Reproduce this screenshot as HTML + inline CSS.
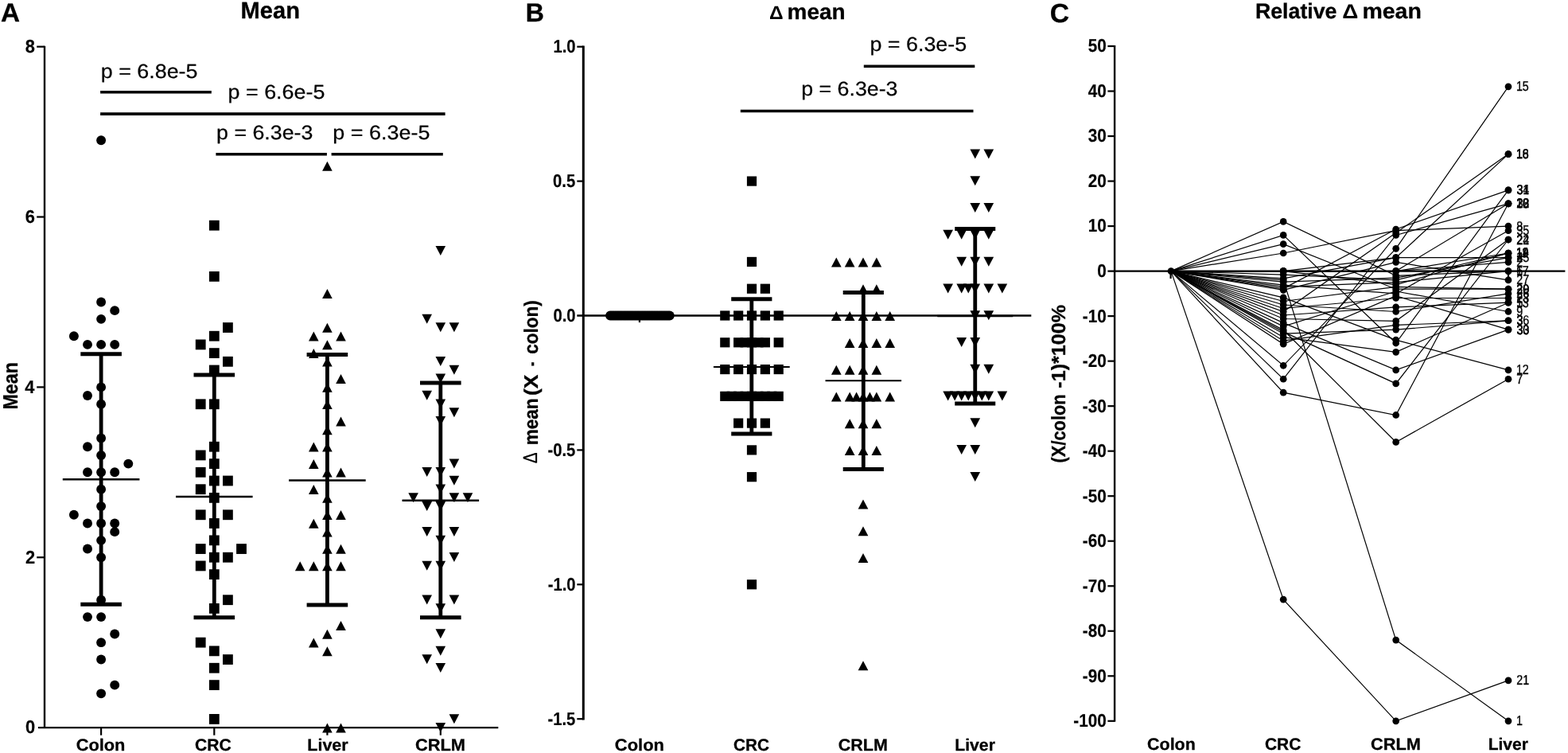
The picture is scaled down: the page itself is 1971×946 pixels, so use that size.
<!DOCTYPE html>
<html lang="en">
<head>
<meta charset="utf-8">
<title>Mean, delta mean and relative delta mean</title>
<style>
html,body{margin:0;padding:0;background:#fff;}
body{width:1971px;height:946px;overflow:hidden;}
svg{display:block;}
svg text{font-family:"Liberation Sans","DejaVu Sans",sans-serif;fill:#000;text-rendering:geometricPrecision;}
svg text.b{font-weight:bold;stroke:#000;stroke-linejoin:round;}
</style>
</head>
<body>
<svg width="1971" height="946" viewBox="0 0 1971 946" fill="#000">
<rect x="0" y="0" width="1971" height="946" fill="#fff"/>
<g id="panelA">
<line x1="56.00" y1="57.66" x2="56.00" y2="915.10" stroke="#000" stroke-width="2.4"/>
<line x1="47.90" y1="914.10" x2="626.30" y2="914.10" stroke="#000" stroke-width="2.4"/>
<line x1="46.20" y1="700.24" x2="56.00" y2="700.24" stroke="#000" stroke-width="2.2"/>
<line x1="46.20" y1="486.38" x2="56.00" y2="486.38" stroke="#000" stroke-width="2.2"/>
<line x1="46.20" y1="272.52" x2="56.00" y2="272.52" stroke="#000" stroke-width="2.2"/>
<line x1="46.20" y1="58.66" x2="56.00" y2="58.66" stroke="#000" stroke-width="2.2"/>
<line x1="127.10" y1="914.10" x2="127.10" y2="923.70" stroke="#000" stroke-width="2.2"/>
<line x1="269.30" y1="914.10" x2="269.30" y2="923.70" stroke="#000" stroke-width="2.2"/>
<line x1="411.40" y1="914.10" x2="411.40" y2="923.70" stroke="#000" stroke-width="2.2"/>
<line x1="553.80" y1="914.10" x2="553.80" y2="923.70" stroke="#000" stroke-width="2.2"/>
<text transform="translate(31.95,921.40) scale(0.9500,1)" font-size="23.00" class="b" stroke-width="0.2">0</text>
<text transform="translate(31.95,707.54) scale(0.9500,1)" font-size="23.00" class="b" stroke-width="0.2">2</text>
<text transform="translate(31.18,493.68) scale(0.9500,1)" font-size="23.00" class="b" stroke-width="0.2">4</text>
<text transform="translate(31.84,279.82) scale(0.9500,1)" font-size="23.00" class="b" stroke-width="0.2">6</text>
<text transform="translate(31.73,65.96) scale(0.9500,1)" font-size="23.00" class="b" stroke-width="0.2">8</text>
<text transform="translate(1.12,27.00) scale(1.0147,1)" font-size="32.80" class="b" stroke-width="0.3">A</text>
<text transform="translate(302.56,23.00) scale(0.9930,1)" font-size="29.30" class="b" stroke-width="0.3">Mean</text>
<text transform="translate(21.90,514.56) rotate(-90) scale(0.8959,1)" font-size="26.00" class="b" stroke-width="0.3">Mean</text>
<text transform="translate(95.68,942.80) scale(1.0379,1)" font-size="21.00" class="b" stroke-width="0.3">Colon</text>
<text transform="translate(244.90,942.80) scale(1.0068,1)" font-size="21.00" class="b" stroke-width="0.3">CRC</text>
<text transform="translate(386.36,942.80) scale(1.0204,1)" font-size="21.00" class="b" stroke-width="0.3">Liver</text>
<text transform="translate(521.88,942.80) scale(1.0415,1)" font-size="21.00" class="b" stroke-width="0.3">CRLM</text>
<circle cx="127.10" cy="176.28" r="5.95"/>
<circle cx="127.10" cy="379.45" r="5.95"/>
<circle cx="144.20" cy="390.14" r="5.95"/>
<circle cx="127.10" cy="400.84" r="5.95"/>
<circle cx="92.90" cy="422.22" r="5.95"/>
<circle cx="110.00" cy="432.91" r="5.95"/>
<circle cx="127.10" cy="432.91" r="5.95"/>
<circle cx="144.20" cy="432.91" r="5.95"/>
<circle cx="127.10" cy="486.38" r="5.95"/>
<circle cx="110.00" cy="497.07" r="5.95"/>
<circle cx="127.10" cy="507.77" r="5.95"/>
<circle cx="127.10" cy="550.54" r="5.95"/>
<circle cx="110.00" cy="561.23" r="5.95"/>
<circle cx="127.10" cy="571.92" r="5.95"/>
<circle cx="161.30" cy="582.62" r="5.95"/>
<circle cx="110.00" cy="593.31" r="5.95"/>
<circle cx="127.10" cy="593.31" r="5.95"/>
<circle cx="144.20" cy="593.31" r="5.95"/>
<circle cx="127.10" cy="614.70" r="5.95"/>
<circle cx="127.10" cy="636.08" r="5.95"/>
<circle cx="92.90" cy="646.77" r="5.95"/>
<circle cx="110.00" cy="657.47" r="5.95"/>
<circle cx="127.10" cy="657.47" r="5.95"/>
<circle cx="144.20" cy="657.47" r="5.95"/>
<circle cx="144.20" cy="668.16" r="5.95"/>
<circle cx="127.10" cy="678.85" r="5.95"/>
<circle cx="110.00" cy="689.55" r="5.95"/>
<circle cx="127.10" cy="700.24" r="5.95"/>
<circle cx="127.10" cy="753.71" r="5.95"/>
<circle cx="110.00" cy="775.09" r="5.95"/>
<circle cx="127.10" cy="775.09" r="5.95"/>
<circle cx="144.20" cy="796.48" r="5.95"/>
<circle cx="127.10" cy="807.17" r="5.95"/>
<circle cx="127.10" cy="828.56" r="5.95"/>
<circle cx="144.20" cy="860.63" r="5.95"/>
<circle cx="127.10" cy="871.33" r="5.95"/>
<rect x="262.90" y="276.81" width="12.80" height="12.80"/>
<rect x="262.90" y="340.97" width="12.80" height="12.80"/>
<rect x="280.00" y="405.13" width="12.80" height="12.80"/>
<rect x="262.90" y="415.82" width="12.80" height="12.80"/>
<rect x="245.80" y="426.51" width="12.80" height="12.80"/>
<rect x="262.90" y="437.21" width="12.80" height="12.80"/>
<rect x="280.00" y="447.90" width="12.80" height="12.80"/>
<rect x="262.90" y="458.59" width="12.80" height="12.80"/>
<rect x="245.80" y="501.37" width="12.80" height="12.80"/>
<rect x="262.90" y="501.37" width="12.80" height="12.80"/>
<rect x="262.90" y="554.83" width="12.80" height="12.80"/>
<rect x="245.80" y="565.52" width="12.80" height="12.80"/>
<rect x="262.90" y="576.22" width="12.80" height="12.80"/>
<rect x="245.80" y="586.91" width="12.80" height="12.80"/>
<rect x="262.90" y="597.60" width="12.80" height="12.80"/>
<rect x="280.00" y="597.60" width="12.80" height="12.80"/>
<rect x="245.80" y="608.30" width="12.80" height="12.80"/>
<rect x="262.90" y="618.99" width="12.80" height="12.80"/>
<rect x="245.80" y="640.38" width="12.80" height="12.80"/>
<rect x="280.00" y="640.38" width="12.80" height="12.80"/>
<rect x="262.90" y="651.07" width="12.80" height="12.80"/>
<rect x="262.90" y="672.45" width="12.80" height="12.80"/>
<rect x="245.80" y="683.15" width="12.80" height="12.80"/>
<rect x="297.10" y="683.15" width="12.80" height="12.80"/>
<rect x="262.90" y="693.84" width="12.80" height="12.80"/>
<rect x="280.00" y="693.84" width="12.80" height="12.80"/>
<rect x="245.80" y="704.53" width="12.80" height="12.80"/>
<rect x="262.90" y="715.23" width="12.80" height="12.80"/>
<rect x="280.00" y="747.31" width="12.80" height="12.80"/>
<rect x="262.90" y="758.00" width="12.80" height="12.80"/>
<rect x="245.80" y="800.77" width="12.80" height="12.80"/>
<rect x="262.90" y="811.46" width="12.80" height="12.80"/>
<rect x="280.00" y="822.16" width="12.80" height="12.80"/>
<rect x="262.90" y="832.85" width="12.80" height="12.80"/>
<rect x="262.90" y="854.24" width="12.80" height="12.80"/>
<rect x="262.90" y="897.01" width="12.80" height="12.80"/>
<path d="M405.10,214.66L417.70,214.66L411.40,202.66Z"/>
<path d="M405.10,375.06L417.70,375.06L411.40,363.06Z"/>
<path d="M405.10,417.83L417.70,417.83L411.40,405.83Z"/>
<path d="M388.00,428.52L400.60,428.52L394.30,416.52Z"/>
<path d="M422.20,428.52L434.80,428.52L428.50,416.52Z"/>
<path d="M405.10,439.21L417.70,439.21L411.40,427.21Z"/>
<path d="M388.00,449.91L400.60,449.91L394.30,437.91Z"/>
<path d="M405.10,460.60L417.70,460.60L411.40,448.60Z"/>
<path d="M422.20,481.99L434.80,481.99L428.50,469.99Z"/>
<path d="M405.10,492.68L417.70,492.68L411.40,480.68Z"/>
<path d="M405.10,514.07L417.70,514.07L411.40,502.07Z"/>
<path d="M422.20,535.45L434.80,535.45L428.50,523.45Z"/>
<path d="M405.10,546.14L417.70,546.14L411.40,534.14Z"/>
<path d="M388.00,567.53L400.60,567.53L394.30,555.53Z"/>
<path d="M405.10,567.53L417.70,567.53L411.40,555.53Z"/>
<path d="M388.00,588.92L400.60,588.92L394.30,576.92Z"/>
<path d="M405.10,599.61L417.70,599.61L411.40,587.61Z"/>
<path d="M422.20,599.61L434.80,599.61L428.50,587.61Z"/>
<path d="M388.00,621.00L400.60,621.00L394.30,609.00Z"/>
<path d="M405.10,631.69L417.70,631.69L411.40,619.69Z"/>
<path d="M405.10,653.07L417.70,653.07L411.40,641.07Z"/>
<path d="M422.20,653.07L434.80,653.07L428.50,641.07Z"/>
<path d="M388.00,663.77L400.60,663.77L394.30,651.77Z"/>
<path d="M405.10,674.46L417.70,674.46L411.40,662.46Z"/>
<path d="M405.10,695.85L417.70,695.85L411.40,683.85Z"/>
<path d="M422.20,695.85L434.80,695.85L428.50,683.85Z"/>
<path d="M370.90,717.23L383.50,717.23L377.20,705.23Z"/>
<path d="M388.00,717.23L400.60,717.23L394.30,705.23Z"/>
<path d="M405.10,717.23L417.70,717.23L411.40,705.23Z"/>
<path d="M422.20,717.23L434.80,717.23L428.50,705.23Z"/>
<path d="M422.20,792.08L434.80,792.08L428.50,780.08Z"/>
<path d="M405.10,802.78L417.70,802.78L411.40,790.78Z"/>
<path d="M388.00,813.47L400.60,813.47L394.30,801.47Z"/>
<path d="M405.10,824.16L417.70,824.16L411.40,812.16Z"/>
<path d="M405.10,920.40L417.70,920.40L411.40,908.40Z"/>
<path d="M422.20,920.40L434.80,920.40L428.50,908.40Z"/>
<path d="M547.50,309.09L560.10,309.09L553.80,321.09Z"/>
<path d="M530.40,394.64L543.00,394.64L536.70,406.64Z"/>
<path d="M547.50,405.33L560.10,405.33L553.80,417.33Z"/>
<path d="M564.60,405.33L577.20,405.33L570.90,417.33Z"/>
<path d="M547.50,448.10L560.10,448.10L553.80,460.10Z"/>
<path d="M564.60,458.79L577.20,458.79L570.90,470.79Z"/>
<path d="M547.50,469.49L560.10,469.49L553.80,481.49Z"/>
<path d="M530.40,490.87L543.00,490.87L536.70,502.87Z"/>
<path d="M547.50,501.57L560.10,501.57L553.80,513.57Z"/>
<path d="M564.60,512.26L577.20,512.26L570.90,524.26Z"/>
<path d="M547.50,522.95L560.10,522.95L553.80,534.95Z"/>
<path d="M564.60,576.42L577.20,576.42L570.90,588.42Z"/>
<path d="M530.40,587.11L543.00,587.11L536.70,599.11Z"/>
<path d="M547.50,587.11L560.10,587.11L553.80,599.11Z"/>
<path d="M564.60,597.80L577.20,597.80L570.90,609.80Z"/>
<path d="M547.50,608.50L560.10,608.50L553.80,620.50Z"/>
<path d="M513.30,619.19L525.90,619.19L519.60,631.19Z"/>
<path d="M564.60,619.19L577.20,619.19L570.90,631.19Z"/>
<path d="M581.70,619.19L594.30,619.19L588.00,631.19Z"/>
<path d="M530.40,629.88L543.00,629.88L536.70,641.88Z"/>
<path d="M547.50,629.88L560.10,629.88L553.80,641.88Z"/>
<path d="M530.40,661.96L543.00,661.96L536.70,673.96Z"/>
<path d="M564.60,661.96L577.20,661.96L570.90,673.96Z"/>
<path d="M547.50,672.65L560.10,672.65L553.80,684.65Z"/>
<path d="M564.60,694.04L577.20,694.04L570.90,706.04Z"/>
<path d="M530.40,704.73L543.00,704.73L536.70,716.73Z"/>
<path d="M547.50,704.73L560.10,704.73L553.80,716.73Z"/>
<path d="M530.40,747.50L543.00,747.50L536.70,759.50Z"/>
<path d="M564.60,747.50L577.20,747.50L570.90,759.50Z"/>
<path d="M547.50,758.20L560.10,758.20L553.80,770.20Z"/>
<path d="M547.50,790.28L560.10,790.28L553.80,802.28Z"/>
<path d="M547.50,811.66L560.10,811.66L553.80,823.66Z"/>
<path d="M530.40,822.36L543.00,822.36L536.70,834.36Z"/>
<path d="M547.50,833.05L560.10,833.05L553.80,845.05Z"/>
<path d="M564.60,897.21L577.20,897.21L570.90,909.21Z"/>
<path d="M547.50,907.90L560.10,907.90L553.80,919.90Z"/>
<line x1="127.10" y1="444.80" x2="127.10" y2="759.30" stroke="#000" stroke-width="4.8"/>
<line x1="101.30" y1="444.80" x2="152.90" y2="444.80" stroke="#000" stroke-width="5.1"/>
<line x1="101.30" y1="759.30" x2="152.90" y2="759.30" stroke="#000" stroke-width="5.1"/>
<line x1="78.80" y1="602.30" x2="175.40" y2="602.30" stroke="#000" stroke-width="2.4"/>
<line x1="269.30" y1="471.00" x2="269.30" y2="775.80" stroke="#000" stroke-width="4.8"/>
<line x1="243.50" y1="471.00" x2="295.10" y2="471.00" stroke="#000" stroke-width="5.1"/>
<line x1="243.50" y1="775.80" x2="295.10" y2="775.80" stroke="#000" stroke-width="5.1"/>
<line x1="221.00" y1="624.00" x2="317.60" y2="624.00" stroke="#000" stroke-width="2.4"/>
<line x1="411.40" y1="445.50" x2="411.40" y2="760.00" stroke="#000" stroke-width="4.8"/>
<line x1="385.60" y1="445.50" x2="437.20" y2="445.50" stroke="#000" stroke-width="5.1"/>
<line x1="385.60" y1="760.00" x2="437.20" y2="760.00" stroke="#000" stroke-width="5.1"/>
<line x1="363.10" y1="603.50" x2="459.70" y2="603.50" stroke="#000" stroke-width="2.4"/>
<line x1="553.80" y1="481.00" x2="553.80" y2="775.80" stroke="#000" stroke-width="4.8"/>
<line x1="528.00" y1="481.00" x2="579.60" y2="481.00" stroke="#000" stroke-width="5.1"/>
<line x1="528.00" y1="775.80" x2="579.60" y2="775.80" stroke="#000" stroke-width="5.1"/>
<line x1="505.50" y1="628.80" x2="602.10" y2="628.80" stroke="#000" stroke-width="2.4"/>
<line x1="126.10" y1="115.70" x2="265.80" y2="115.70" stroke="#000" stroke-width="3.6"/>
<line x1="126.10" y1="143.10" x2="559.60" y2="143.10" stroke="#000" stroke-width="3.6"/>
<line x1="271.40" y1="193.70" x2="410.90" y2="193.70" stroke="#000" stroke-width="3.6"/>
<line x1="416.60" y1="193.70" x2="556.80" y2="193.70" stroke="#000" stroke-width="3.6"/>
<text transform="translate(126.78,98.20) scale(1.0744,1)" font-size="25.00" stroke="#000" stroke-width="0.25">p = 6.8e-5</text>
<text transform="translate(286.58,124.00) scale(1.0753,1)" font-size="25.00" stroke="#000" stroke-width="0.25">p = 6.6e-5</text>
<text transform="translate(272.09,175.30) scale(1.0707,1)" font-size="25.00" stroke="#000" stroke-width="0.25">p = 6.3e-3</text>
<text transform="translate(418.37,175.30) scale(1.0771,1)" font-size="25.00" stroke="#000" stroke-width="0.25">p = 6.3e-5</text>
</g>
<g id="panelB">
<line x1="733.30" y1="57.50" x2="733.30" y2="904.40" stroke="#000" stroke-width="3.0"/>
<line x1="725.30" y1="396.50" x2="1296.30" y2="396.50" stroke="#000" stroke-width="2.7"/>
<line x1="725.30" y1="58.70" x2="733.30" y2="58.70" stroke="#000" stroke-width="2.2"/>
<line x1="725.30" y1="227.60" x2="733.30" y2="227.60" stroke="#000" stroke-width="2.2"/>
<line x1="725.30" y1="565.40" x2="733.30" y2="565.40" stroke="#000" stroke-width="2.2"/>
<line x1="725.30" y1="734.30" x2="733.30" y2="734.30" stroke="#000" stroke-width="2.2"/>
<line x1="725.30" y1="903.20" x2="733.30" y2="903.20" stroke="#000" stroke-width="2.2"/>
<line x1="803.90" y1="396.50" x2="803.90" y2="405.10" stroke="#000" stroke-width="2.2"/>
<line x1="945.00" y1="396.50" x2="945.00" y2="405.10" stroke="#000" stroke-width="2.2"/>
<line x1="1085.00" y1="396.50" x2="1085.00" y2="405.10" stroke="#000" stroke-width="2.2"/>
<line x1="1225.70" y1="396.50" x2="1225.70" y2="405.10" stroke="#000" stroke-width="2.2"/>
<text transform="translate(695.38,66.10) scale(0.8800,1)" font-size="23.00" class="b" stroke-width="0.2">1.0</text>
<text transform="translate(695.07,235.00) scale(0.8800,1)" font-size="23.00" class="b" stroke-width="0.2">0.5</text>
<text transform="translate(695.38,403.90) scale(0.8800,1)" font-size="23.00" class="b" stroke-width="0.2">0.0</text>
<text transform="translate(688.39,572.80) scale(0.8800,1)" font-size="23.00" class="b" stroke-width="0.2">-0.5</text>
<text transform="translate(688.70,741.70) scale(0.8800,1)" font-size="23.00" class="b" stroke-width="0.2">-1.0</text>
<text transform="translate(688.39,910.60) scale(0.8800,1)" font-size="23.00" class="b" stroke-width="0.2">-1.5</text>
<text transform="translate(660.76,26.80) scale(0.9796,1)" font-size="32.80" class="b" stroke-width="0.3">B</text>
<text transform="translate(966.92,24.20) scale(1.0307,1)" font-size="23.80" class="b" stroke-width="0.0">Δ</text>
<text transform="translate(989.53,24.20) scale(1.0245,1)" font-size="27.30" class="b" stroke-width="0.3">mean</text>
<text transform="translate(675.40,581.96) rotate(-90) scale(0.8164,1)" font-size="24.90" stroke="#000" stroke-width="0.3">Δ</text>
<text transform="translate(675.60,559.32) rotate(-90) scale(0.9177,1)" font-size="24.60" class="b" stroke-width="0.3">mean</text>
<text transform="translate(675.60,497.07) rotate(-90) scale(1.0768,1)" font-size="24.60" class="b" stroke-width="0.3">(X</text>
<text transform="translate(675.60,460.09) rotate(-90) scale(0.6536,1)" font-size="24.60" class="b" stroke-width="0.3">-</text>
<text transform="translate(675.60,444.85) rotate(-90) scale(0.9178,1)" font-size="24.60" class="b" stroke-width="0.3">colon)</text>
<text transform="translate(772.87,942.80) scale(1.0431,1)" font-size="21.00" class="b" stroke-width="0.3">Colon</text>
<text transform="translate(921.92,942.80) scale(0.9887,1)" font-size="21.00" class="b" stroke-width="0.3">CRC</text>
<text transform="translate(1053.79,942.80) scale(1.0243,1)" font-size="21.00" class="b" stroke-width="0.3">CRLM</text>
<text transform="translate(1200.27,942.80) scale(1.0080,1)" font-size="21.00" class="b" stroke-width="0.3">Liver</text>
<circle cx="767.00" cy="396.50" r="5.90"/>
<circle cx="769.14" cy="396.50" r="5.90"/>
<circle cx="771.27" cy="396.50" r="5.90"/>
<circle cx="773.41" cy="396.50" r="5.90"/>
<circle cx="775.55" cy="396.50" r="5.90"/>
<circle cx="777.69" cy="396.50" r="5.90"/>
<circle cx="779.82" cy="396.50" r="5.90"/>
<circle cx="781.96" cy="396.50" r="5.90"/>
<circle cx="784.10" cy="396.50" r="5.90"/>
<circle cx="786.23" cy="396.50" r="5.90"/>
<circle cx="788.37" cy="396.50" r="5.90"/>
<circle cx="790.51" cy="396.50" r="5.90"/>
<circle cx="792.65" cy="396.50" r="5.90"/>
<circle cx="794.78" cy="396.50" r="5.90"/>
<circle cx="796.92" cy="396.50" r="5.90"/>
<circle cx="799.06" cy="396.50" r="5.90"/>
<circle cx="801.19" cy="396.50" r="5.90"/>
<circle cx="803.33" cy="396.50" r="5.90"/>
<circle cx="805.47" cy="396.50" r="5.90"/>
<circle cx="807.61" cy="396.50" r="5.90"/>
<circle cx="809.74" cy="396.50" r="5.90"/>
<circle cx="811.88" cy="396.50" r="5.90"/>
<circle cx="814.02" cy="396.50" r="5.90"/>
<circle cx="816.15" cy="396.50" r="5.90"/>
<circle cx="818.29" cy="396.50" r="5.90"/>
<circle cx="820.43" cy="396.50" r="5.90"/>
<circle cx="822.57" cy="396.50" r="5.90"/>
<circle cx="824.70" cy="396.50" r="5.90"/>
<circle cx="826.84" cy="396.50" r="5.90"/>
<circle cx="828.98" cy="396.50" r="5.90"/>
<circle cx="831.11" cy="396.50" r="5.90"/>
<circle cx="833.25" cy="396.50" r="5.90"/>
<circle cx="835.39" cy="396.50" r="5.90"/>
<circle cx="837.53" cy="396.50" r="5.90"/>
<circle cx="839.66" cy="396.50" r="5.90"/>
<circle cx="841.80" cy="396.50" r="5.90"/>
<rect x="938.90" y="221.50" width="12.20" height="12.20"/>
<rect x="938.90" y="322.84" width="12.20" height="12.20"/>
<rect x="938.90" y="356.62" width="12.20" height="12.20"/>
<rect x="955.75" y="356.62" width="12.20" height="12.20"/>
<rect x="905.20" y="390.40" width="12.20" height="12.20"/>
<rect x="922.05" y="390.40" width="12.20" height="12.20"/>
<rect x="938.90" y="390.40" width="12.20" height="12.20"/>
<rect x="955.75" y="390.40" width="12.20" height="12.20"/>
<rect x="972.60" y="390.40" width="12.20" height="12.20"/>
<rect x="905.20" y="424.18" width="12.20" height="12.20"/>
<rect x="922.05" y="424.18" width="12.20" height="12.20"/>
<rect x="930.48" y="424.18" width="12.20" height="12.20"/>
<rect x="938.90" y="424.18" width="12.20" height="12.20"/>
<rect x="947.32" y="424.18" width="12.20" height="12.20"/>
<rect x="955.75" y="424.18" width="12.20" height="12.20"/>
<rect x="972.60" y="424.18" width="12.20" height="12.20"/>
<rect x="905.20" y="457.96" width="12.20" height="12.20"/>
<rect x="922.05" y="457.96" width="12.20" height="12.20"/>
<rect x="938.90" y="457.96" width="12.20" height="12.20"/>
<rect x="955.75" y="457.96" width="12.20" height="12.20"/>
<rect x="972.60" y="457.96" width="12.20" height="12.20"/>
<rect x="905.20" y="491.74" width="12.20" height="12.20"/>
<rect x="913.62" y="491.74" width="12.20" height="12.20"/>
<rect x="922.05" y="491.74" width="12.20" height="12.20"/>
<rect x="930.48" y="491.74" width="12.20" height="12.20"/>
<rect x="938.90" y="491.74" width="12.20" height="12.20"/>
<rect x="947.32" y="491.74" width="12.20" height="12.20"/>
<rect x="955.75" y="491.74" width="12.20" height="12.20"/>
<rect x="964.17" y="491.74" width="12.20" height="12.20"/>
<rect x="972.60" y="491.74" width="12.20" height="12.20"/>
<rect x="922.05" y="525.52" width="12.20" height="12.20"/>
<rect x="938.90" y="525.52" width="12.20" height="12.20"/>
<rect x="955.75" y="525.52" width="12.20" height="12.20"/>
<rect x="938.90" y="559.30" width="12.20" height="12.20"/>
<rect x="938.90" y="593.08" width="12.20" height="12.20"/>
<rect x="938.90" y="728.20" width="12.20" height="12.20"/>
<path d="M1044.95,335.54L1057.65,335.54L1051.30,323.54Z"/>
<path d="M1061.80,335.54L1074.50,335.54L1068.15,323.54Z"/>
<path d="M1078.65,335.54L1091.35,335.54L1085.00,323.54Z"/>
<path d="M1095.50,335.54L1108.20,335.54L1101.85,323.54Z"/>
<path d="M1078.65,369.32L1091.35,369.32L1085.00,357.32Z"/>
<path d="M1095.50,369.32L1108.20,369.32L1101.85,357.32Z"/>
<path d="M1044.95,403.10L1057.65,403.10L1051.30,391.10Z"/>
<path d="M1061.80,403.10L1074.50,403.10L1068.15,391.10Z"/>
<path d="M1078.65,403.10L1091.35,403.10L1085.00,391.10Z"/>
<path d="M1095.50,403.10L1108.20,403.10L1101.85,391.10Z"/>
<path d="M1112.35,403.10L1125.05,403.10L1118.70,391.10Z"/>
<path d="M1061.80,436.88L1074.50,436.88L1068.15,424.88Z"/>
<path d="M1078.65,436.88L1091.35,436.88L1085.00,424.88Z"/>
<path d="M1095.50,436.88L1108.20,436.88L1101.85,424.88Z"/>
<path d="M1112.35,436.88L1125.05,436.88L1118.70,424.88Z"/>
<path d="M1044.95,470.66L1057.65,470.66L1051.30,458.66Z"/>
<path d="M1061.80,470.66L1074.50,470.66L1068.15,458.66Z"/>
<path d="M1078.65,470.66L1091.35,470.66L1085.00,458.66Z"/>
<path d="M1095.50,470.66L1108.20,470.66L1101.85,458.66Z"/>
<path d="M1044.95,504.44L1057.65,504.44L1051.30,492.44Z"/>
<path d="M1061.80,504.44L1074.50,504.44L1068.15,492.44Z"/>
<path d="M1070.23,504.44L1082.92,504.44L1076.58,492.44Z"/>
<path d="M1078.65,504.44L1091.35,504.44L1085.00,492.44Z"/>
<path d="M1087.08,504.44L1099.77,504.44L1093.42,492.44Z"/>
<path d="M1095.50,504.44L1108.20,504.44L1101.85,492.44Z"/>
<path d="M1112.35,504.44L1125.05,504.44L1118.70,492.44Z"/>
<path d="M1061.80,538.22L1074.50,538.22L1068.15,526.22Z"/>
<path d="M1078.65,538.22L1091.35,538.22L1085.00,526.22Z"/>
<path d="M1095.50,538.22L1108.20,538.22L1101.85,526.22Z"/>
<path d="M1061.80,572.00L1074.50,572.00L1068.15,560.00Z"/>
<path d="M1078.65,572.00L1091.35,572.00L1085.00,560.00Z"/>
<path d="M1095.50,572.00L1108.20,572.00L1101.85,560.00Z"/>
<path d="M1078.65,639.56L1091.35,639.56L1085.00,627.56Z"/>
<path d="M1078.65,673.34L1091.35,673.34L1085.00,661.34Z"/>
<path d="M1078.65,707.12L1091.35,707.12L1085.00,695.12Z"/>
<path d="M1078.65,842.24L1091.35,842.24L1085.00,830.24Z"/>
<path d="M1219.40,187.52L1232.10,187.52L1225.75,199.52Z"/>
<path d="M1236.45,187.52L1249.15,187.52L1242.80,199.52Z"/>
<path d="M1219.40,221.30L1232.10,221.30L1225.75,233.30Z"/>
<path d="M1219.40,255.08L1232.10,255.08L1225.75,267.08Z"/>
<path d="M1236.45,255.08L1249.15,255.08L1242.80,267.08Z"/>
<path d="M1185.30,288.86L1198.00,288.86L1191.65,300.86Z"/>
<path d="M1202.35,288.86L1215.05,288.86L1208.70,300.86Z"/>
<path d="M1219.40,288.86L1232.10,288.86L1225.75,300.86Z"/>
<path d="M1236.45,288.86L1249.15,288.86L1242.80,300.86Z"/>
<path d="M1202.35,322.64L1215.05,322.64L1208.70,334.64Z"/>
<path d="M1219.40,322.64L1232.10,322.64L1225.75,334.64Z"/>
<path d="M1236.45,322.64L1249.15,322.64L1242.80,334.64Z"/>
<path d="M1185.30,356.42L1198.00,356.42L1191.65,368.42Z"/>
<path d="M1202.35,356.42L1215.05,356.42L1208.70,368.42Z"/>
<path d="M1210.88,356.42L1223.57,356.42L1217.22,368.42Z"/>
<path d="M1219.40,356.42L1232.10,356.42L1225.75,368.42Z"/>
<path d="M1236.45,356.42L1249.15,356.42L1242.80,368.42Z"/>
<path d="M1253.50,356.42L1266.20,356.42L1259.85,368.42Z"/>
<path d="M1219.40,390.20L1232.10,390.20L1225.75,402.20Z"/>
<path d="M1236.45,390.20L1249.15,390.20L1242.80,402.20Z"/>
<path d="M1202.35,423.98L1215.05,423.98L1208.70,435.98Z"/>
<path d="M1219.40,423.98L1232.10,423.98L1225.75,435.98Z"/>
<path d="M1219.40,457.76L1232.10,457.76L1225.75,469.76Z"/>
<path d="M1236.45,457.76L1249.15,457.76L1242.80,469.76Z"/>
<path d="M1185.30,491.54L1198.00,491.54L1191.65,503.54Z"/>
<path d="M1193.83,491.54L1206.52,491.54L1200.17,503.54Z"/>
<path d="M1202.35,491.54L1215.05,491.54L1208.70,503.54Z"/>
<path d="M1210.88,491.54L1223.57,491.54L1217.22,503.54Z"/>
<path d="M1219.40,491.54L1232.10,491.54L1225.75,503.54Z"/>
<path d="M1227.93,491.54L1240.62,491.54L1234.28,503.54Z"/>
<path d="M1236.45,491.54L1249.15,491.54L1242.80,503.54Z"/>
<path d="M1253.50,491.54L1266.20,491.54L1259.85,503.54Z"/>
<path d="M1219.40,525.32L1232.10,525.32L1225.75,537.32Z"/>
<path d="M1202.35,559.10L1215.05,559.10L1208.70,571.10Z"/>
<path d="M1219.40,559.10L1232.10,559.10L1225.75,571.10Z"/>
<path d="M1219.40,592.88L1232.10,592.88L1225.75,604.88Z"/>
<line x1="944.80" y1="375.80" x2="944.80" y2="545.00" stroke="#000" stroke-width="4.8"/>
<line x1="919.20" y1="375.80" x2="970.40" y2="375.80" stroke="#000" stroke-width="5.1"/>
<line x1="919.20" y1="545.00" x2="970.40" y2="545.00" stroke="#000" stroke-width="5.1"/>
<line x1="896.90" y1="460.90" x2="992.70" y2="460.90" stroke="#000" stroke-width="2.0"/>
<line x1="1085.30" y1="367.50" x2="1085.30" y2="589.50" stroke="#000" stroke-width="4.8"/>
<line x1="1059.70" y1="367.50" x2="1110.90" y2="367.50" stroke="#000" stroke-width="5.1"/>
<line x1="1059.70" y1="589.50" x2="1110.90" y2="589.50" stroke="#000" stroke-width="5.1"/>
<line x1="1037.50" y1="478.30" x2="1133.10" y2="478.30" stroke="#000" stroke-width="2.0"/>
<line x1="1225.75" y1="287.50" x2="1225.75" y2="507.00" stroke="#000" stroke-width="4.8"/>
<line x1="1200.25" y1="287.50" x2="1251.25" y2="287.50" stroke="#000" stroke-width="5.1"/>
<line x1="1200.25" y1="507.00" x2="1251.25" y2="507.00" stroke="#000" stroke-width="5.1"/>
<line x1="1178.25" y1="397.00" x2="1273.25" y2="397.00" stroke="#000" stroke-width="2.4"/>
<line x1="1085.80" y1="83.30" x2="1225.30" y2="83.30" stroke="#000" stroke-width="3.6"/>
<line x1="930.80" y1="139.50" x2="1223.50" y2="139.50" stroke="#000" stroke-width="3.6"/>
<text transform="translate(1093.38,63.90) scale(1.0753,1)" font-size="25.00" stroke="#000" stroke-width="0.25">p = 6.3e-5</text>
<text transform="translate(1007.19,119.70) scale(1.0707,1)" font-size="25.00" stroke="#000" stroke-width="0.25">p = 6.3e-3</text>
</g>
<g id="panelC">
<line x1="1401.10" y1="57.00" x2="1401.10" y2="906.80" stroke="#000" stroke-width="2.4"/>
<line x1="1392.40" y1="340.60" x2="1967.40" y2="340.60" stroke="#000" stroke-width="2.4"/>
<line x1="1471.60" y1="340.60" x2="1471.60" y2="350.00" stroke="#000" stroke-width="2.2"/>
<line x1="1613.20" y1="340.60" x2="1613.20" y2="350.00" stroke="#000" stroke-width="2.2"/>
<line x1="1754.70" y1="340.60" x2="1754.70" y2="350.00" stroke="#000" stroke-width="2.2"/>
<line x1="1896.00" y1="340.60" x2="1896.00" y2="350.00" stroke="#000" stroke-width="2.2"/>
<line x1="1392.40" y1="58.00" x2="1401.10" y2="58.00" stroke="#000" stroke-width="2.2"/>
<line x1="1392.40" y1="114.52" x2="1401.10" y2="114.52" stroke="#000" stroke-width="2.2"/>
<line x1="1392.40" y1="171.04" x2="1401.10" y2="171.04" stroke="#000" stroke-width="2.2"/>
<line x1="1392.40" y1="227.56" x2="1401.10" y2="227.56" stroke="#000" stroke-width="2.2"/>
<line x1="1392.40" y1="284.08" x2="1401.10" y2="284.08" stroke="#000" stroke-width="2.2"/>
<line x1="1392.40" y1="397.12" x2="1401.10" y2="397.12" stroke="#000" stroke-width="2.2"/>
<line x1="1392.40" y1="453.64" x2="1401.10" y2="453.64" stroke="#000" stroke-width="2.2"/>
<line x1="1392.40" y1="510.16" x2="1401.10" y2="510.16" stroke="#000" stroke-width="2.2"/>
<line x1="1392.40" y1="566.68" x2="1401.10" y2="566.68" stroke="#000" stroke-width="2.2"/>
<line x1="1392.40" y1="623.20" x2="1401.10" y2="623.20" stroke="#000" stroke-width="2.2"/>
<line x1="1392.40" y1="679.72" x2="1401.10" y2="679.72" stroke="#000" stroke-width="2.2"/>
<line x1="1392.40" y1="736.24" x2="1401.10" y2="736.24" stroke="#000" stroke-width="2.2"/>
<line x1="1392.40" y1="792.76" x2="1401.10" y2="792.76" stroke="#000" stroke-width="2.2"/>
<line x1="1392.40" y1="849.28" x2="1401.10" y2="849.28" stroke="#000" stroke-width="2.2"/>
<line x1="1392.40" y1="905.80" x2="1401.10" y2="905.80" stroke="#000" stroke-width="2.2"/>
<text transform="translate(1367.75,65.40) scale(0.9000,1)" font-size="23.00" class="b" stroke-width="0.2">50</text>
<text transform="translate(1367.75,121.92) scale(0.9000,1)" font-size="23.00" class="b" stroke-width="0.2">40</text>
<text transform="translate(1367.75,178.44) scale(0.9000,1)" font-size="23.00" class="b" stroke-width="0.2">30</text>
<text transform="translate(1367.75,234.96) scale(0.9000,1)" font-size="23.00" class="b" stroke-width="0.2">20</text>
<text transform="translate(1367.75,291.48) scale(0.9000,1)" font-size="23.00" class="b" stroke-width="0.2">10</text>
<text transform="translate(1379.24,348.00) scale(0.9000,1)" font-size="23.00" class="b" stroke-width="0.2">0</text>
<text transform="translate(1360.82,404.52) scale(0.9000,1)" font-size="23.00" class="b" stroke-width="0.2">-10</text>
<text transform="translate(1360.82,461.04) scale(0.9000,1)" font-size="23.00" class="b" stroke-width="0.2">-20</text>
<text transform="translate(1360.82,517.56) scale(0.9000,1)" font-size="23.00" class="b" stroke-width="0.2">-30</text>
<text transform="translate(1360.82,574.08) scale(0.9000,1)" font-size="23.00" class="b" stroke-width="0.2">-40</text>
<text transform="translate(1360.82,630.60) scale(0.9000,1)" font-size="23.00" class="b" stroke-width="0.2">-50</text>
<text transform="translate(1360.82,687.12) scale(0.9000,1)" font-size="23.00" class="b" stroke-width="0.2">-60</text>
<text transform="translate(1360.82,743.64) scale(0.9000,1)" font-size="23.00" class="b" stroke-width="0.2">-70</text>
<text transform="translate(1360.82,800.16) scale(0.9000,1)" font-size="23.00" class="b" stroke-width="0.2">-80</text>
<text transform="translate(1360.82,856.68) scale(0.9000,1)" font-size="23.00" class="b" stroke-width="0.2">-90</text>
<text transform="translate(1349.33,913.20) scale(0.9000,1)" font-size="23.00" class="b" stroke-width="0.2">-100</text>
<text transform="translate(1319.80,28.00) scale(1.0102,1)" font-size="33.40" class="b" stroke-width="0.3">C</text>
<text transform="translate(1577.91,22.60) scale(0.9980,1)" font-size="26.80" class="b" stroke-width="0.3">Relative</text>
<text transform="translate(1687.28,22.60) scale(1.1011,1)" font-size="25.40" class="b" stroke-width="0.0">Δ</text>
<text transform="translate(1712.40,22.60) scale(1.0631,1)" font-size="26.80" class="b" stroke-width="0.3">mean</text>
<text transform="translate(1338.70,581.44) rotate(-90) scale(0.8872,1)" font-size="24.60" class="b" stroke-width="0.3">(X/colon</text>
<text transform="translate(1338.70,487.65) rotate(-90) scale(1.0210,1)" font-size="24.60" class="b" stroke-width="0.3">-1)*100%</text>
<text transform="translate(1442.09,941.60) scale(1.0204,1)" font-size="21.00" class="b" stroke-width="0.3">Colon</text>
<text transform="translate(1589.91,941.60) scale(1.0000,1)" font-size="21.00" class="b" stroke-width="0.3">CRC</text>
<text transform="translate(1722.93,941.60) scale(1.0389,1)" font-size="21.00" class="b" stroke-width="0.3">CRLM</text>
<text transform="translate(1870.69,941.60) scale(0.9998,1)" font-size="21.00" class="b" stroke-width="0.3">Liver</text>
<g fill="none" stroke="#000" stroke-width="1.2">
<polyline points="1472.0,340.6 1613.2,351.9 1754.7,804.1 1896.0,905.8"/>
<polyline points="1472.0,340.6 1613.2,753.2 1754.7,905.8 1896.0,854.9"/>
<polyline points="1472.0,340.6 1613.2,414.6 1754.7,555.4 1896.0,476.2"/>
<polyline points="1472.0,340.6 1613.2,493.2 1754.7,521.5 1896.0,255.8"/>
<polyline points="1472.0,340.6 1613.2,476.2 1754.7,295.4 1896.0,255.8"/>
<polyline points="1472.0,340.6 1613.2,459.3 1754.7,312.3 1896.0,108.9"/>
<polyline points="1472.0,340.6 1613.2,318.0 1754.7,289.7 1896.0,284.1"/>
<polyline points="1472.0,340.6 1613.2,362.6 1754.7,288.0 1896.0,238.9"/>
<polyline points="1472.0,340.6 1613.2,391.5 1754.7,292.6 1896.0,193.6"/>
<polyline points="1472.0,340.6 1613.2,340.6 1754.7,323.6 1896.0,193.6"/>
<polyline points="1472.0,340.6 1613.2,349.9 1754.7,323.6 1896.0,323.6"/>
<polyline points="1472.0,340.6 1613.2,278.4 1754.7,346.3 1896.0,340.6"/>
<polyline points="1472.0,340.6 1613.2,295.4 1754.7,431.0 1896.0,238.9"/>
<polyline points="1472.0,340.6 1613.2,306.7 1754.7,363.2 1896.0,363.2"/>
<polyline points="1472.0,340.6 1613.2,416.9 1754.7,481.9 1896.0,301.0"/>
<polyline points="1472.0,340.6 1613.2,405.6 1754.7,464.9 1896.0,414.1"/>
<polyline points="1472.0,340.6 1613.2,423.7 1754.7,442.3 1896.0,380.2"/>
<polyline points="1472.0,340.6 1613.2,373.9 1754.7,427.1 1896.0,464.9"/>
<polyline points="1472.0,340.6 1613.2,340.6 1754.7,340.6 1896.0,255.8"/>
<polyline points="1472.0,340.6 1613.2,358.1 1754.7,368.9 1896.0,289.7"/>
<polyline points="1472.0,340.6 1613.2,400.5 1754.7,403.3 1896.0,301.0"/>
<polyline points="1472.0,340.6 1613.2,340.6 1754.7,357.6 1896.0,318.0"/>
<polyline points="1472.0,340.6 1613.2,340.6 1754.7,340.6 1896.0,318.0"/>
<polyline points="1472.0,340.6 1613.2,345.1 1754.7,351.9 1896.0,318.0"/>
<polyline points="1472.0,340.6 1613.2,354.2 1754.7,349.1 1896.0,323.6"/>
<polyline points="1472.0,340.6 1613.2,340.6 1754.7,340.6 1896.0,329.3"/>
<polyline points="1472.0,340.6 1613.2,360.4 1754.7,354.7 1896.0,340.6"/>
<polyline points="1472.0,340.6 1613.2,364.3 1754.7,329.3 1896.0,351.9"/>
<polyline points="1472.0,340.6 1613.2,378.5 1754.7,360.4 1896.0,363.2"/>
<polyline points="1472.0,340.6 1613.2,383.0 1754.7,391.5 1896.0,368.9"/>
<polyline points="1472.0,340.6 1613.2,387.5 1754.7,374.5 1896.0,374.5"/>
<polyline points="1472.0,340.6 1613.2,396.0 1754.7,385.8 1896.0,380.2"/>
<polyline points="1472.0,340.6 1613.2,410.1 1754.7,366.0 1896.0,391.5"/>
<polyline points="1472.0,340.6 1613.2,419.2 1754.7,414.1 1896.0,402.8"/>
<polyline points="1472.0,340.6 1613.2,428.2 1754.7,408.4 1896.0,402.8"/>
<polyline points="1472.0,340.6 1613.2,432.2 1754.7,371.7 1896.0,414.1"/>
</g>
<circle cx="1472.00" cy="340.60" r="4.35"/>
<circle cx="1613.20" cy="351.90" r="4.35"/>
<circle cx="1754.70" cy="804.06" r="4.35"/>
<circle cx="1896.00" cy="905.80" r="4.35"/>
<circle cx="1613.20" cy="753.20" r="4.35"/>
<circle cx="1754.70" cy="905.80" r="4.35"/>
<circle cx="1896.00" cy="854.93" r="4.35"/>
<circle cx="1613.20" cy="414.64" r="4.35"/>
<circle cx="1754.70" cy="555.38" r="4.35"/>
<circle cx="1896.00" cy="476.25" r="4.35"/>
<circle cx="1613.20" cy="493.20" r="4.35"/>
<circle cx="1754.70" cy="521.46" r="4.35"/>
<circle cx="1896.00" cy="255.82" r="4.35"/>
<circle cx="1613.20" cy="476.25" r="4.35"/>
<circle cx="1754.70" cy="295.38" r="4.35"/>
<circle cx="1896.00" cy="255.82" r="4.35"/>
<circle cx="1613.20" cy="459.29" r="4.35"/>
<circle cx="1754.70" cy="312.34" r="4.35"/>
<circle cx="1896.00" cy="108.87" r="4.35"/>
<circle cx="1613.20" cy="317.99" r="4.35"/>
<circle cx="1754.70" cy="289.73" r="4.35"/>
<circle cx="1896.00" cy="284.08" r="4.35"/>
<circle cx="1613.20" cy="362.64" r="4.35"/>
<circle cx="1754.70" cy="288.04" r="4.35"/>
<circle cx="1896.00" cy="238.86" r="4.35"/>
<circle cx="1613.20" cy="391.47" r="4.35"/>
<circle cx="1754.70" cy="292.56" r="4.35"/>
<circle cx="1896.00" cy="193.65" r="4.35"/>
<circle cx="1613.20" cy="340.60" r="4.35"/>
<circle cx="1754.70" cy="323.64" r="4.35"/>
<circle cx="1896.00" cy="193.65" r="4.35"/>
<circle cx="1613.20" cy="349.93" r="4.35"/>
<circle cx="1754.70" cy="323.64" r="4.35"/>
<circle cx="1896.00" cy="323.64" r="4.35"/>
<circle cx="1613.20" cy="278.43" r="4.35"/>
<circle cx="1754.70" cy="346.25" r="4.35"/>
<circle cx="1896.00" cy="340.60" r="4.35"/>
<circle cx="1613.20" cy="295.38" r="4.35"/>
<circle cx="1754.70" cy="431.03" r="4.35"/>
<circle cx="1896.00" cy="238.86" r="4.35"/>
<circle cx="1613.20" cy="306.69" r="4.35"/>
<circle cx="1754.70" cy="363.21" r="4.35"/>
<circle cx="1896.00" cy="363.21" r="4.35"/>
<circle cx="1613.20" cy="416.90" r="4.35"/>
<circle cx="1754.70" cy="481.90" r="4.35"/>
<circle cx="1896.00" cy="301.04" r="4.35"/>
<circle cx="1613.20" cy="405.60" r="4.35"/>
<circle cx="1754.70" cy="464.94" r="4.35"/>
<circle cx="1896.00" cy="414.08" r="4.35"/>
<circle cx="1613.20" cy="423.68" r="4.35"/>
<circle cx="1754.70" cy="442.34" r="4.35"/>
<circle cx="1896.00" cy="380.16" r="4.35"/>
<circle cx="1613.20" cy="373.95" r="4.35"/>
<circle cx="1754.70" cy="427.08" r="4.35"/>
<circle cx="1896.00" cy="464.94" r="4.35"/>
<circle cx="1613.20" cy="340.60" r="4.35"/>
<circle cx="1754.70" cy="340.60" r="4.35"/>
<circle cx="1896.00" cy="255.82" r="4.35"/>
<circle cx="1613.20" cy="358.12" r="4.35"/>
<circle cx="1754.70" cy="368.86" r="4.35"/>
<circle cx="1896.00" cy="289.73" r="4.35"/>
<circle cx="1613.20" cy="400.51" r="4.35"/>
<circle cx="1754.70" cy="403.34" r="4.35"/>
<circle cx="1896.00" cy="301.04" r="4.35"/>
<circle cx="1613.20" cy="340.60" r="4.35"/>
<circle cx="1754.70" cy="357.56" r="4.35"/>
<circle cx="1896.00" cy="317.99" r="4.35"/>
<circle cx="1613.20" cy="340.60" r="4.35"/>
<circle cx="1754.70" cy="340.60" r="4.35"/>
<circle cx="1896.00" cy="317.99" r="4.35"/>
<circle cx="1613.20" cy="345.12" r="4.35"/>
<circle cx="1754.70" cy="351.90" r="4.35"/>
<circle cx="1896.00" cy="317.99" r="4.35"/>
<circle cx="1613.20" cy="354.16" r="4.35"/>
<circle cx="1754.70" cy="349.08" r="4.35"/>
<circle cx="1896.00" cy="323.64" r="4.35"/>
<circle cx="1613.20" cy="340.60" r="4.35"/>
<circle cx="1754.70" cy="340.60" r="4.35"/>
<circle cx="1896.00" cy="329.30" r="4.35"/>
<circle cx="1613.20" cy="360.38" r="4.35"/>
<circle cx="1754.70" cy="354.73" r="4.35"/>
<circle cx="1896.00" cy="340.60" r="4.35"/>
<circle cx="1613.20" cy="364.34" r="4.35"/>
<circle cx="1754.70" cy="329.30" r="4.35"/>
<circle cx="1896.00" cy="351.90" r="4.35"/>
<circle cx="1613.20" cy="378.47" r="4.35"/>
<circle cx="1754.70" cy="360.38" r="4.35"/>
<circle cx="1896.00" cy="363.21" r="4.35"/>
<circle cx="1613.20" cy="382.99" r="4.35"/>
<circle cx="1754.70" cy="391.47" r="4.35"/>
<circle cx="1896.00" cy="368.86" r="4.35"/>
<circle cx="1613.20" cy="387.51" r="4.35"/>
<circle cx="1754.70" cy="374.51" r="4.35"/>
<circle cx="1896.00" cy="374.51" r="4.35"/>
<circle cx="1613.20" cy="395.99" r="4.35"/>
<circle cx="1754.70" cy="385.82" r="4.35"/>
<circle cx="1896.00" cy="380.16" r="4.35"/>
<circle cx="1613.20" cy="410.12" r="4.35"/>
<circle cx="1754.70" cy="366.03" r="4.35"/>
<circle cx="1896.00" cy="391.47" r="4.35"/>
<circle cx="1613.20" cy="419.16" r="4.35"/>
<circle cx="1754.70" cy="414.08" r="4.35"/>
<circle cx="1896.00" cy="402.77" r="4.35"/>
<circle cx="1613.20" cy="428.21" r="4.35"/>
<circle cx="1754.70" cy="408.42" r="4.35"/>
<circle cx="1896.00" cy="402.77" r="4.35"/>
<circle cx="1613.20" cy="432.16" r="4.35"/>
<circle cx="1754.70" cy="371.69" r="4.35"/>
<circle cx="1896.00" cy="414.08" r="4.35"/>
<text transform="translate(1905.93,911.30) scale(0.84,1)" font-size="17.0" stroke="#000" stroke-width="0.35">1</text>
<text transform="translate(1906.29,860.43) scale(0.84,1)" font-size="17.0" stroke="#000" stroke-width="0.35">21</text>
<text transform="translate(1906.29,481.75) scale(0.84,1)" font-size="17.0" stroke="#000" stroke-width="0.35">7</text>
<text transform="translate(1906.29,261.32) scale(0.84,1)" font-size="17.0" stroke="#000" stroke-width="0.35">28</text>
<text transform="translate(1906.43,261.32) scale(0.84,1)" font-size="17.0" stroke="#000" stroke-width="0.35">32</text>
<text transform="translate(1905.93,114.37) scale(0.84,1)" font-size="17.0" stroke="#000" stroke-width="0.35">15</text>
<text transform="translate(1906.36,289.58) scale(0.84,1)" font-size="17.0" stroke="#000" stroke-width="0.35">8</text>
<text transform="translate(1906.43,244.36) scale(0.84,1)" font-size="17.0" stroke="#000" stroke-width="0.35">34</text>
<text transform="translate(1905.93,199.15) scale(0.84,1)" font-size="17.0" stroke="#000" stroke-width="0.35">16</text>
<text transform="translate(1905.93,199.15) scale(0.84,1)" font-size="17.0" stroke="#000" stroke-width="0.35">18</text>
<text transform="translate(1906.29,329.14) scale(0.84,1)" font-size="17.0" stroke="#000" stroke-width="0.35">25</text>
<text transform="translate(1906.29,346.10) scale(0.84,1)" font-size="17.0" stroke="#000" stroke-width="0.35">6</text>
<text transform="translate(1906.43,244.36) scale(0.84,1)" font-size="17.0" stroke="#000" stroke-width="0.35">31</text>
<text transform="translate(1906.29,368.71) scale(0.84,1)" font-size="17.0" stroke="#000" stroke-width="0.35">20</text>
<text transform="translate(1906.29,306.54) scale(0.84,1)" font-size="17.0" stroke="#000" stroke-width="0.35">24</text>
<text transform="translate(1906.43,419.58) scale(0.84,1)" font-size="17.0" stroke="#000" stroke-width="0.35">30</text>
<text transform="translate(1906.43,385.66) scale(0.84,1)" font-size="17.0" stroke="#000" stroke-width="0.35">5</text>
<text transform="translate(1905.93,470.44) scale(0.84,1)" font-size="17.0" stroke="#000" stroke-width="0.35">12</text>
<text transform="translate(1905.93,261.32) scale(0.84,1)" font-size="17.0" stroke="#000" stroke-width="0.35">10</text>
<text transform="translate(1906.43,295.23) scale(0.84,1)" font-size="17.0" stroke="#000" stroke-width="0.35">35</text>
<text transform="translate(1906.29,306.54) scale(0.84,1)" font-size="17.0" stroke="#000" stroke-width="0.35">22</text>
<text transform="translate(1905.93,323.49) scale(0.84,1)" font-size="17.0" stroke="#000" stroke-width="0.35">14</text>
<text transform="translate(1905.93,323.49) scale(0.84,1)" font-size="17.0" stroke="#000" stroke-width="0.35">11</text>
<text transform="translate(1905.93,323.49) scale(0.84,1)" font-size="17.0" stroke="#000" stroke-width="0.35">19</text>
<text transform="translate(1906.71,329.14) scale(0.84,1)" font-size="17.0" stroke="#000" stroke-width="0.35">4</text>
<text transform="translate(1906.29,334.80) scale(0.84,1)" font-size="17.0" stroke="#000" stroke-width="0.35">2</text>
<text transform="translate(1905.93,346.10) scale(0.84,1)" font-size="17.0" stroke="#000" stroke-width="0.35">17</text>
<text transform="translate(1906.29,357.40) scale(0.84,1)" font-size="17.0" stroke="#000" stroke-width="0.35">27</text>
<text transform="translate(1906.29,368.71) scale(0.84,1)" font-size="17.0" stroke="#000" stroke-width="0.35">29</text>
<text transform="translate(1906.29,374.36) scale(0.84,1)" font-size="17.0" stroke="#000" stroke-width="0.35">26</text>
<text transform="translate(1906.29,380.01) scale(0.84,1)" font-size="17.0" stroke="#000" stroke-width="0.35">23</text>
<text transform="translate(1905.93,385.66) scale(0.84,1)" font-size="17.0" stroke="#000" stroke-width="0.35">13</text>
<text transform="translate(1906.36,396.97) scale(0.84,1)" font-size="17.0" stroke="#000" stroke-width="0.35">9</text>
<text transform="translate(1906.43,408.27) scale(0.84,1)" font-size="17.0" stroke="#000" stroke-width="0.35">36</text>
<text transform="translate(1906.43,408.27) scale(0.84,1)" font-size="17.0" stroke="#000" stroke-width="0.35">3</text>
<text transform="translate(1906.43,419.58) scale(0.84,1)" font-size="17.0" stroke="#000" stroke-width="0.35">33</text>
</g>
</svg>
</body>
</html>
